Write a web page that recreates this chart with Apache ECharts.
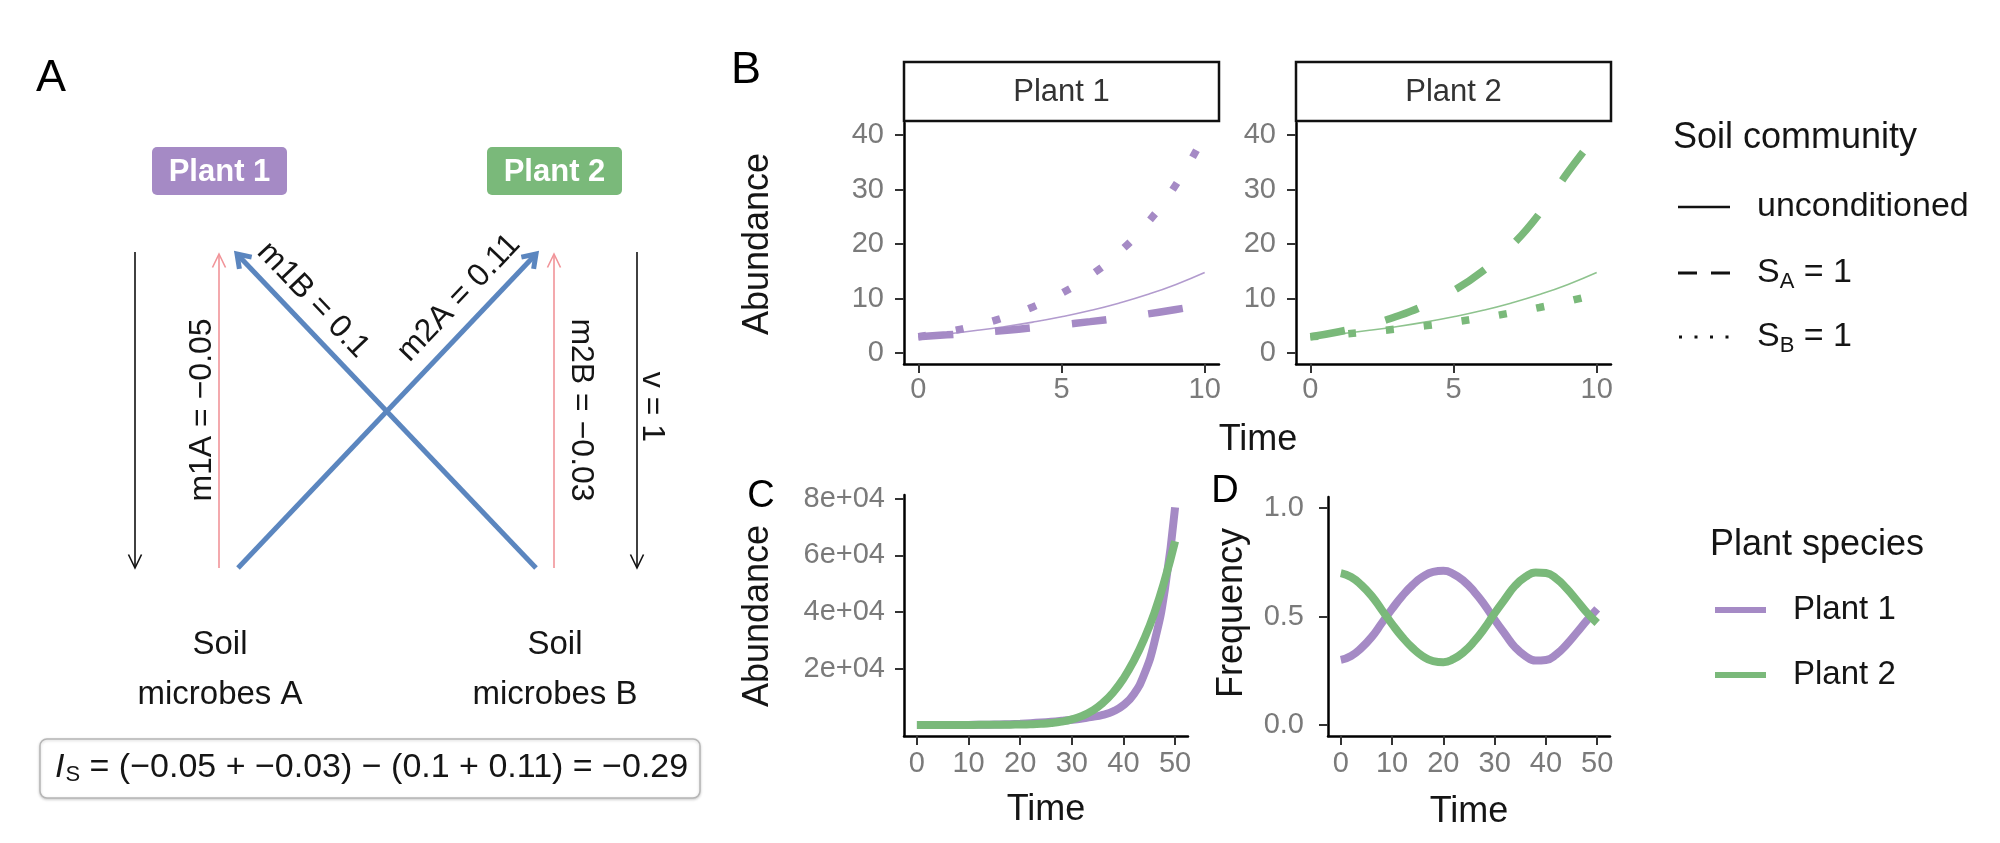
<!DOCTYPE html>
<html>
<head>
<meta charset="utf-8">
<script src="https://cdn.jsdelivr.net/npm/echarts@6/dist/echarts.min.js"></script>
<style>html,body{margin:0;padding:0;background:#fff}#c{width:2000px;height:843px}</style>
</head>
<body>
<div id="c"></div>
<script>
// ---------- DATA ----------
const timeB = [0, 1, 2, 3, 4, 5, 6, 7, 8, 9, 10];
const plant1Uncond = [3.0, 3.52, 4.13, 4.84, 5.68, 6.66, 7.81, 9.16, 10.74, 12.60, 14.78];
const plant1SA = [3.0, 3.35, 3.73, 4.16, 4.64, 5.17, 5.77, 6.43, 7.17, 8.0, 8.92];
const plant1SB = [3.0, 3.89, 5.04, 6.53, 8.46, 10.97, 14.21, 18.42, 23.87, 30.93, 40.0];
const plant2Uncond = [3.0, 3.52, 4.13, 4.84, 5.68, 6.66, 7.81, 9.16, 10.74, 12.60, 14.78];
const plant2SA = [3.0, 3.92, 5.13, 6.70, 8.76, 11.45, 14.97, 19.57, 25.58, 33.2, 40.0];
const plant2SB = [3.0, 3.41, 3.88, 4.41, 5.01, 5.69, 6.47, 7.36, 8.36, 9.51, 10.8];

const timeCD = [0, 2, 4, 6, 8, 10, 12, 14, 16, 18, 20, 22, 24, 26, 28, 30, 32, 34, 36, 38, 40, 42, 44, 46, 48, 50];
const abundPlant1 = [5.3, 8.0, 12.8, 21.1, 34.8, 56.7, 90.4, 140.6, 213, 315, 455, 639, 874, 1161, 1502, 1882, 2336, 2870, 3630, 4860, 7040, 10930, 17850, 29380, 47750, 77000];
const abundPlant2 = [12.2, 17.0, 23.2, 30.9, 39.2, 49.3, 61.6, 77.4, 99, 132, 186, 280, 444, 727, 1205, 1998, 3225, 5101, 7800, 11510, 16430, 22710, 30380, 39740, 51320, 65000];
const freqPlant1 = [0.300, 0.318, 0.355, 0.405, 0.470, 0.535, 0.595, 0.645, 0.683, 0.705, 0.710, 0.695, 0.663, 0.615, 0.555, 0.485, 0.420, 0.358, 0.318, 0.297, 0.300, 0.325, 0.370, 0.425, 0.482, 0.535];
const freqPlant2 = [0.700, 0.682, 0.645, 0.595, 0.530, 0.465, 0.405, 0.355, 0.317, 0.295, 0.290, 0.305, 0.337, 0.385, 0.445, 0.515, 0.580, 0.642, 0.682, 0.703, 0.700, 0.675, 0.630, 0.575, 0.518, 0.470];

const ticksBy = [0, 10, 20, 30, 40];
const ticksBx = [0, 5, 10];
const ticksCy = [20000, 40000, 60000, 80000];
const labelsCy = ['2e+04', '4e+04', '6e+04', '8e+04'];
const ticksCDx = [0, 10, 20, 30, 40, 50];
const ticksDy = [0, 0.5, 1];
const labelsDy = ['0.0', '0.5', '1.0'];

const facetNames = ['Plant 1', 'Plant 2'];
const soilLegend = ['unconditioned', 'S_A = 1', 'S_B = 1'];
const speciesLegend = ['Plant 1', 'Plant 2'];
const paramNames = ['m1A', 'm1B', 'm2A', 'm2B'];
const paramValues = [-0.05, 0.1, 0.11, -0.03];
const vValue = 1;

// ---------- STYLE ----------
const FONT = "'Liberation Sans', Arial, Helvetica, sans-serif";
const PURPLE = '#a58ac5';
const GREEN = '#7ab97a';
const BLUE = '#5b86bf';
const PINK = '#f19499';
const TICKCOL = '#7a7a7a';
const TXT = '#151515';

const fmt = v => (v < 0 ? '\u2212' + Math.abs(v) : String(v));
const pairs = (xs, ys) => xs.map((x, i) => [x, ys[i]]);

const gridB1 = {left: 904, top: 123, width: 315, height: 241};
const gridB2 = {left: 1296, top: 123, width: 315, height: 241};
const gridC = {left: 904, top: 495, width: 284, height: 241};
const gridD = {left: 1328, top: 497, width: 282, height: 239};

function axis(gi, min, max, ticks, labels, margin) {
  return {
    type: 'value', gridIndex: gi, min: min, max: max,
    axisLine: {show: true, onZero: false, lineStyle: {color: '#000', width: 2.5}},
    axisTick: {show: true, length: 9, customValues: ticks, lineStyle: {color: '#333', width: 2}},
    axisLabel: {show: true, customValues: ticks, margin: margin, color: TICKCOL, fontSize: 29, fontFamily: FONT,
      formatter: v => labels ? labels[ticks.indexOf(v)] : String(v)},
    splitLine: {show: false}
  };
}

function lineSeries(name, xi, xs, ys, color, width, type, opacity) {
  return {
    type: 'line', name: name, xAxisIndex: xi, yAxisIndex: xi,
    data: pairs(xs, ys), smooth: true, symbol: 'none', silent: true,
    lineStyle: {color: color, width: width, type: type || 'solid', cap: 'butt', opacity: opacity == null ? 1 : opacity},
    z: width > 3 ? 3 : 4
  };
}

const DASH = [35, 42];
const DOT = [8, 30];

const series = [
  lineSeries(soilLegend[0], 0, timeB, plant1Uncond, PURPLE, 1.6, 'solid', 0.85),
  lineSeries(soilLegend[1], 0, timeB, plant1SA, PURPLE, 7.5, DASH),
  lineSeries(soilLegend[2], 0, timeB, plant1SB, PURPLE, 7.5, DOT),
  lineSeries(soilLegend[0], 1, timeB, plant2Uncond, GREEN, 1.6, 'solid', 0.85),
  lineSeries(soilLegend[1], 1, timeB, plant2SA, GREEN, 7.5, DASH),
  lineSeries(soilLegend[2], 1, timeB, plant2SB, GREEN, 7.5, DOT),
  lineSeries(speciesLegend[0], 2, timeCD, abundPlant1, PURPLE, 8),
  lineSeries(speciesLegend[1], 2, timeCD, abundPlant2, GREEN, 8),
  lineSeries(speciesLegend[0], 3, timeCD, freqPlant1, PURPLE, 8),
  lineSeries(speciesLegend[1], 3, timeCD, freqPlant2, GREEN, 8)
];

// ---------- GRAPHIC HELPERS ----------
function txt(x, y, text, o) {
  o = o || {};
  return {
    type: 'text', x: x, y: y, rotation: o.rot || 0, silent: true, z: 10,
    style: {
      text: text, fill: o.color || TXT,
      font: (o.italic ? 'italic ' : '') + (o.bold ? 'bold ' : '') + (o.size || 30) + 'px ' + FONT,
      align: o.align || 'center', verticalAlign: o.valign || 'middle',
      textAlign: o.align || 'center', textVerticalAlign: o.valign || 'middle',
      rich: o.rich
    }
  };
}
function arrow(x1, y1, x2, y2, color, lw, hl, ha) {
  const a = Math.atan2(y2 - y1, x2 - x1);
  const p1 = [x2 - hl * Math.cos(a - ha), y2 - hl * Math.sin(a - ha)];
  const p2 = [x2 - hl * Math.cos(a + ha), y2 - hl * Math.sin(a + ha)];
  return [
    {type: 'line', silent: true, shape: {x1: x1, y1: y1, x2: x2 - Math.cos(a) * lw * 0.6, y2: y2 - Math.sin(a) * lw * 0.6},
      style: {stroke: color, lineWidth: lw}},
    {type: 'polyline', silent: true, shape: {points: [p1, [x2, y2], p2]},
      style: {stroke: color, lineWidth: lw, fill: null, lineJoin: 'miter'}}
  ];
}

const g = [];
// Panel letters
g.push(txt(51, 79, 'A', {size: 45, color: '#000'}));
g.push(txt(746, 71, 'B', {size: 45, color: '#000'}));
g.push(txt(761, 497, 'C', {size: 38, color: '#000'}));
g.push(txt(1225, 492, 'D', {size: 38, color: '#000'}));

// Panel A: plant boxes
g.push({type: 'rect', silent: true, shape: {x: 152, y: 147, width: 135, height: 48, r: 5}, style: {fill: PURPLE}});
g.push({type: 'rect', silent: true, shape: {x: 487, y: 147, width: 135, height: 48, r: 5}, style: {fill: GREEN}});
g.push(txt(219.5, 172, facetNames[0], {size: 31, bold: true, color: '#fff'}));
g.push(txt(554.5, 172, facetNames[1], {size: 31, bold: true, color: '#fff'}));

// Panel A arrows
arrow(135, 252, 135, 568, '#111', 1.6, 15, 0.45).forEach(e => g.push(e));
arrow(219, 568, 219, 254, PINK, 1.6, 15, 0.45).forEach(e => g.push(e));
arrow(554, 568, 554, 254, PINK, 1.6, 15, 0.45).forEach(e => g.push(e));
arrow(637, 252, 637, 568, '#111', 1.6, 15, 0.45).forEach(e => g.push(e));
arrow(238, 568, 536, 254, BLUE, 5, 15, 0.6).forEach(e => g.push(e));
arrow(536, 568, 237, 254, BLUE, 5, 15, 0.6).forEach(e => g.push(e));

// Panel A labels
g.push(txt(202, 410, paramNames[0] + ' = ' + fmt(paramValues[0]), {size: 32, rot: Math.PI / 2}));
g.push(txt(581, 410, paramNames[3] + ' = ' + fmt(paramValues[3]), {size: 32, rot: -Math.PI / 2}));
g.push(txt(652, 407, 'v = ' + vValue, {size: 32, rot: -Math.PI / 2}));
g.push(txt(313, 300, paramNames[1] + ' = ' + fmt(paramValues[1]), {size: 32, rot: -0.81}));
g.push(txt(459, 298, paramNames[2] + ' = ' + fmt(paramValues[2]), {size: 32, rot: 0.81}));
g.push(txt(220, 645, 'Soil', {size: 33}));
g.push(txt(220, 695, 'microbes A', {size: 33}));
g.push(txt(555, 645, 'Soil', {size: 33}));
g.push(txt(555, 695, 'microbes B', {size: 33}));

// Panel A index box
const Is = (paramValues[0] + paramValues[3]) - (paramValues[1] + paramValues[2]);
g.push({type: 'rect', silent: true, shape: {x: 40, y: 739, width: 660, height: 59, r: 7},
  style: {fill: '#fff', stroke: '#b5b5b5', lineWidth: 1.5, shadowBlur: 3, shadowColor: 'rgba(0,0,0,0.18)', shadowOffsetY: 1}});
g.push(txt(55, 768,
  '{i|I}{s|S}{n| = (' + fmt(paramValues[0]) + ' + ' + fmt(paramValues[3]) + ') \u2212 (' + fmt(paramValues[1]) + ' + ' + fmt(paramValues[2]) + ') = ' + fmt(Math.round(Is * 100) / 100) + '}',
  {align: 'left', size: 34, rich: {
    i: {fontSize: 34, fontStyle: 'italic', fontFamily: FONT, color: TXT},
    s: {fontSize: 22, fontFamily: FONT, color: TXT, padding: [14, 0, 0, 1]},
    n: {fontSize: 34, fontFamily: FONT, color: TXT}
  }}));

// Panel B strips
[gridB1, gridB2].forEach((gr, i) => {
  g.push({type: 'rect', silent: true, shape: {x: gr.left, y: 62, width: gr.width, height: 59},
    style: {fill: '#fff', stroke: '#111', lineWidth: 2.5}});
  g.push(txt(gr.left + gr.width / 2, 92, facetNames[i], {size: 31, color: '#333'}));
});

// Axis titles
g.push(txt(758, 244, 'Abundance', {size: 36, rot: Math.PI / 2}));
g.push(txt(1258, 440, 'Time', {size: 36}));
g.push(txt(758, 616, 'Abundance', {size: 36, rot: Math.PI / 2}));
g.push(txt(1046, 810, 'Time', {size: 36}));
g.push(txt(1232, 613, 'Frequency', {size: 36, rot: Math.PI / 2}));
g.push(txt(1469, 812, 'Time', {size: 36}));

// Legend: Soil community
g.push(txt(1673, 138, 'Soil community', {size: 36, align: 'left'}));
g.push({type: 'line', silent: true, shape: {x1: 1678, y1: 207, x2: 1730, y2: 207}, style: {stroke: '#111', lineWidth: 2.5}});
g.push({type: 'line', silent: true, shape: {x1: 1678, y1: 273, x2: 1730, y2: 273}, style: {stroke: '#111', lineWidth: 3, lineDash: [19, 14]}});
g.push({type: 'line', silent: true, shape: {x1: 1679, y1: 337, x2: 1731, y2: 337}, style: {stroke: '#111', lineWidth: 3, lineDash: [3, 12.5]}});
g.push(txt(1757, 207, soilLegend[0], {size: 34, align: 'left'}));
const subRich = {n: {fontSize: 34, fontFamily: FONT, color: TXT}, s: {fontSize: 22, fontFamily: FONT, color: TXT, padding: [17, 0, 0, 0]}};
soilLegend.slice(1).forEach((lab, i) => {
  const parts = lab.split('_');
  const rest = parts[1].slice(1);
  g.push(txt(1757, 273 + i * 64, '{n|' + parts[0] + '}{s|' + parts[1][0] + '}{n|' + rest + '}', {size: 34, align: 'left', rich: subRich}));
});

// Legend: Plant species
g.push(txt(1710, 545, 'Plant species', {size: 36, align: 'left'}));
g.push({type: 'line', silent: true, shape: {x1: 1715, y1: 610, x2: 1766, y2: 610}, style: {stroke: PURPLE, lineWidth: 6}});
g.push({type: 'line', silent: true, shape: {x1: 1715, y1: 675, x2: 1766, y2: 675}, style: {stroke: GREEN, lineWidth: 6}});
g.push(txt(1793, 610, speciesLegend[0], {size: 33, align: 'left'}));
g.push(txt(1793, 675, speciesLegend[1], {size: 33, align: 'left'}));

// ---------- CHART ----------
const chart = echarts.init(document.getElementById('c'), null, {renderer: 'canvas'});
chart.setOption({
  backgroundColor: '#fff',
  animation: false,
  textStyle: {fontFamily: FONT},
  grid: [gridB1, gridB2, gridC, gridD].map(gr => Object.assign({containLabel: false}, gr)),
  xAxis: [
    axis(0, -0.5, 10.5, ticksBx, null, 11),
    axis(1, -0.5, 10.5, ticksBx, null, 11),
    axis(2, -2.5, 52.5, ticksCDx, null, 13),
    axis(3, -2.5, 52.5, ticksCDx, null, 13)
  ],
  yAxis: [
    axis(0, -2, 42.2, ticksBy, null, 20),
    axis(1, -2, 42.2, ticksBy, null, 20),
    axis(2, -3875, 81375, ticksCy, labelsCy, 19),
    axis(3, -0.05, 1.05, ticksDy, labelsDy, 24)
  ],
  series: series,
  graphic: {elements: g}
});
</script>
</body>
</html>
